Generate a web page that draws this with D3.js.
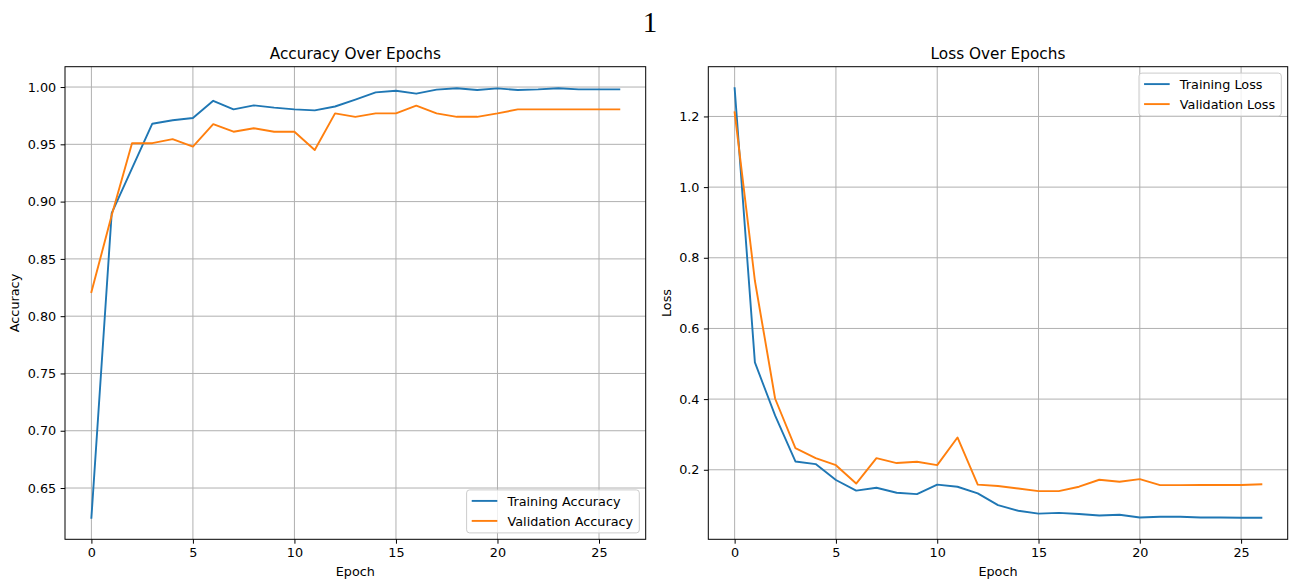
<!DOCTYPE html>
<html>
<head>
<meta charset="utf-8">
<script src="https://cdn.jsdelivr.net/npm/d3@7"></script>
<style>
	body { margin: 0; background: #fff; }
	svg { display: block; }
	text { font-family: "DejaVu Sans", sans-serif; fill: #000; }
</style>
</head>
<body>
<div id="my_dataviz"></div>
<script>
// values
const epochs = [0, 1, 2, 3, 4, 5, 6, 7, 8, 9, 10, 11, 12, 13, 14, 15, 16, 17, 18, 19, 20, 21, 22, 23, 24, 25, 26];

const trainAcc = [0.624, 0.890, 0.929, 0.968, 0.971, 0.973, 0.988, 0.9805, 0.984, 0.982, 0.9805, 0.9796, 0.983, 0.989,
	0.9953, 0.9968, 0.9942, 0.9977, 0.999, 0.9974, 0.9988, 0.9974, 0.998, 0.999, 0.998, 0.998, 0.998];
const valAcc = [0.821, 0.888, 0.951, 0.951, 0.9545, 0.948, 0.9676, 0.961, 0.964, 0.961, 0.961, 0.945, 0.977, 0.974,
	0.977, 0.977, 0.9837, 0.977, 0.974, 0.974, 0.977, 0.9805, 0.9805, 0.9805, 0.9805, 0.9805, 0.9805];

const trainLoss = [1.280, 0.504, 0.353, 0.2235, 0.216, 0.171, 0.141, 0.149, 0.135, 0.131, 0.158, 0.152, 0.133, 0.100,
	0.084, 0.076, 0.078, 0.075, 0.0705, 0.0725, 0.065, 0.067, 0.067, 0.065, 0.065, 0.064, 0.064];
const valLoss = [1.212, 0.735, 0.401, 0.261, 0.233, 0.213, 0.161, 0.233, 0.219, 0.2227, 0.213, 0.2915, 0.158, 0.154,
	0.147, 0.1396, 0.1396, 0.152, 0.1717, 0.166, 0.1736, 0.1566, 0.1566, 0.157, 0.157, 0.157, 0.159];

const xTicks = [0, 5, 10, 15, 20, 25];
const accTicks = [0.65, 0.70, 0.75, 0.80, 0.85, 0.90, 0.95, 1.00];
const lossTicks = [0.2, 0.4, 0.6, 0.8, 1.0, 1.2];

const figW = 1290, figH = 583;
const blue = "#1f77b4", orange = "#ff7f0e";
const fs = 12.8;

const svg = d3.select("#my_dataviz")
	.append("svg")
	.attr("width", figW)
	.attr("height", figH);

// suptitle
svg.append("text")
	.attr("x", 650)
	.attr("y", 32)
	.attr("text-anchor", "middle")
	.style("font-family", "'Liberation Serif', serif")
	.style("font-size", "29px")
	.text("1");

// matplotlib-like 5% margins
function padded(ext, frac) {
	const r = ext[1] - ext[0];
	return [ext[0] - r * frac, ext[1] + r * frac];
}

function drawPanel(box, series, yTicks, yFmt, title, yLabel, legendPos) {
	const g = svg.append("g")
		.attr("transform", `translate(${box.left}, ${box.top})`);
	const w = box.width, h = box.height;

	const x = d3.scaleLinear()
		.domain(padded(d3.extent(epochs), 0.05))
		.range([0, w]);

	const allY = series.flatMap(s => s.values);
	const y = d3.scaleLinear()
		.domain(padded(d3.extent(allY), 0.05))
		.range([h, 0]);

	// grid
	g.append("g")
		.selectAll("line")
		.data(xTicks)
		.enter()
		.append("line")
		.attr("x1", d => x(d)).attr("x2", d => x(d))
		.attr("y1", 0).attr("y2", h)
		.attr("stroke", "#b0b0b0")
		.attr("stroke-width", 1);
	g.append("g")
		.selectAll("line")
		.data(yTicks)
		.enter()
		.append("line")
		.attr("y1", d => y(d)).attr("y2", d => y(d))
		.attr("x1", 0).attr("x2", w)
		.attr("stroke", "#b0b0b0")
		.attr("stroke-width", 1);

	// lines
	const line = d3.line()
		.x((d, i) => x(epochs[i]))
		.y(d => y(d));
	series.forEach(s => {
		g.append("path")
			.datum(s.values)
			.attr("fill", "none")
			.attr("stroke", s.color)
			.attr("stroke-width", 1.9)
			.attr("stroke-linejoin", "round")
			.attr("stroke-linecap", "square")
			.attr("d", line);
	});

	// axes
	const xAxis = g.append("g")
		.attr("transform", `translate(0, ${h})`)
		.call(d3.axisBottom(x).tickValues(xTicks).tickSize(4.4).tickPadding(4.4).tickFormat(d3.format("d")));
	const yAxis = g.append("g")
		.call(d3.axisLeft(y).tickValues(yTicks).tickSize(4.4).tickPadding(4.4).tickFormat(d3.format(yFmt)));
	[xAxis, yAxis].forEach(a => {
		a.select(".domain").remove();
		a.selectAll("line").attr("stroke", "#000").attr("stroke-width", 1);
		a.selectAll("text")
			.attr("font-family", "DejaVu Sans")
			.style("font-size", fs + "px")
			.attr("fill", "#262626");
	});

	// frame
	g.append("rect")
		.attr("width", w)
		.attr("height", h)
		.attr("fill", "none")
		.attr("stroke", "#000")
		.attr("stroke-width", 1);

	// title and labels
	g.append("text")
		.attr("x", w / 2)
		.attr("y", -7.8)
		.attr("text-anchor", "middle")
		.style("font-size", "15.3px")
		.text(title);
	g.append("text")
		.attr("x", w / 2)
		.attr("y", h + 37)
		.attr("text-anchor", "middle")
		.style("font-size", fs + "px")
		.text("Epoch");
	g.append("text")
		.attr("transform", `translate(${box.ylabelX - box.left}, ${h / 2}) rotate(-90)`)
		.attr("text-anchor", "middle")
		.style("font-size", fs + "px")
		.text(yLabel);

	// legend
	const leg = g.append("g");
	const texts = series.map(s => s.label);
	const tmp = leg.selectAll("text.tmp")
		.data(texts).enter().append("text")
		.style("font-size", fs + "px")
		.text(d => d);
	const textW = d3.max(tmp.nodes(), n => n.getComputedTextLength());
	tmp.remove();

	const pad = 5.1, handle = 25.6, gap = 10.2, rowH = 20;
	const legW = pad + handle + gap + textW + pad + 1;
	const legH = 43;
	const lx = w - 6.4 - legW;
	const ly = legendPos === "upper" ? 6.4 : h - 6.4 - legH;

	leg.attr("transform", `translate(${lx}, ${ly})`);
	leg.append("rect")
		.attr("width", legW)
		.attr("height", legH)
		.attr("rx", 3)
		.attr("fill", "#fff")
		.attr("fill-opacity", 0.8)
		.attr("stroke", "#cccccc")
		.attr("stroke-width", 1);
	const rows = leg.selectAll("g.row")
		.data(series)
		.enter()
		.append("g")
		.attr("transform", (d, i) => `translate(0, ${11 + i * rowH})`);
	rows.append("line")
		.attr("x1", pad).attr("x2", pad + handle)
		.attr("stroke", d => d.color)
		.attr("stroke-width", 1.9);
	rows.append("text")
		.attr("x", pad + handle + gap)
		.attr("y", 4.6)
		.style("font-size", fs + "px")
		.text(d => d.label);
}

drawPanel(
	{ left: 65, top: 66.7, width: 580.7, height: 472.6, ylabelX: 19 },
	[
		{ label: "Training Accuracy", values: trainAcc, color: blue },
		{ label: "Validation Accuracy", values: valAcc, color: orange }
	],
	accTicks, ".2f", "Accuracy Over Epochs", "Accuracy", "lower"
);

drawPanel(
	{ left: 708.3, top: 66.7, width: 579.4, height: 472.6, ylabelX: 670.5 },
	[
		{ label: "Training Loss", values: trainLoss, color: blue },
		{ label: "Validation Loss", values: valLoss, color: orange }
	],
	lossTicks, ".1f", "Loss Over Epochs", "Loss", "upper"
);
</script>
</body>
</html>
